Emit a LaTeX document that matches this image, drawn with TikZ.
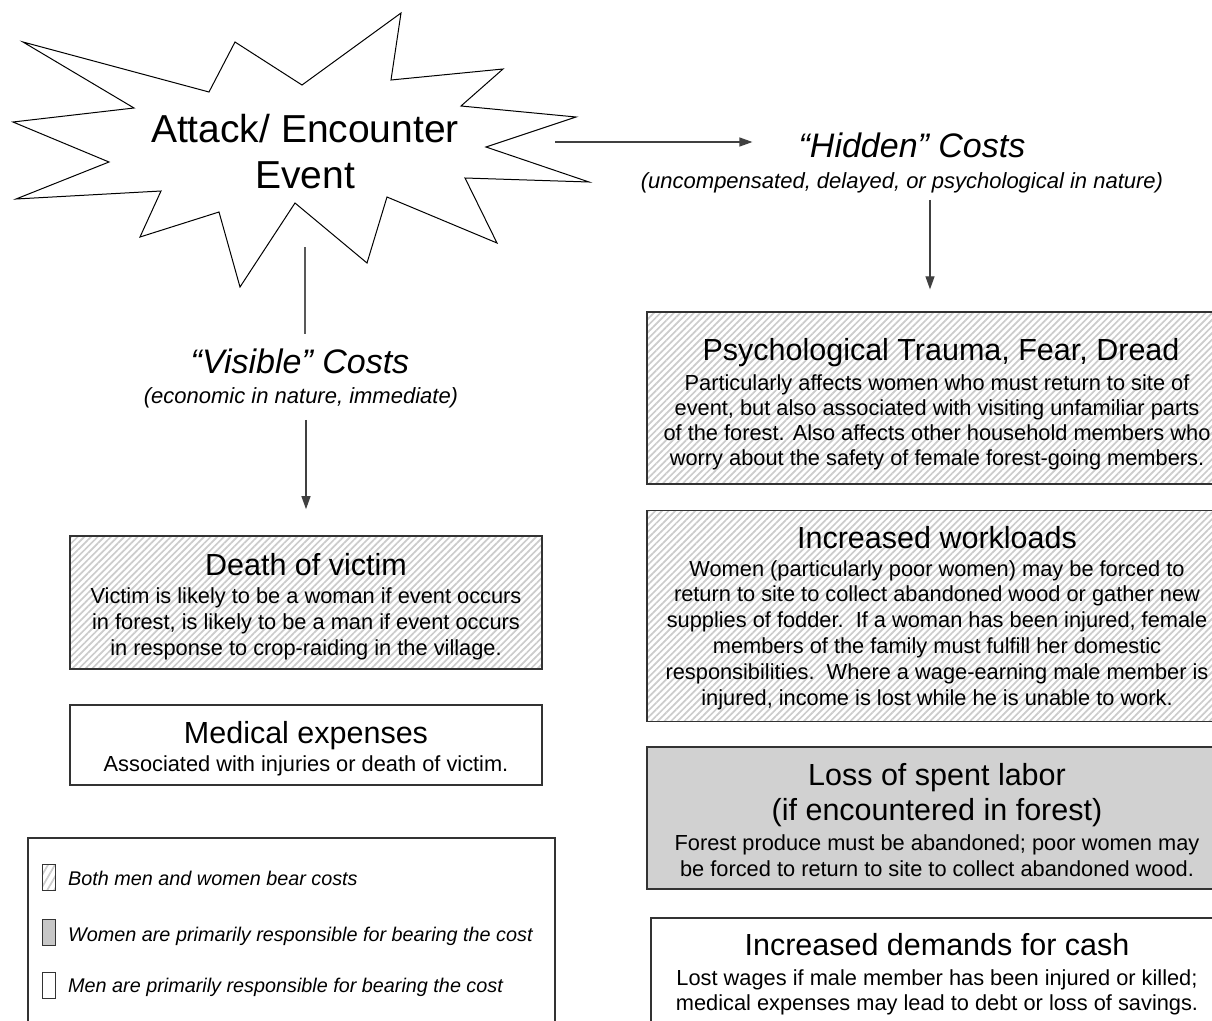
\documentclass[tikz,border=0pt]{standalone}
\usepackage{fontspec}
\setmainfont{Liberation Sans}
\usetikzlibrary{arrows.meta,patterns.meta}
\begin{document}
\begin{tikzpicture}[x=1pt,y=-1pt,
  hatch/.style={pattern={Lines[angle=45,distance=4.7pt,line width=1.7pt]}, pattern color=black!20},
  hatchbox/.style={draw=black!80, line width=1.3pt, hatch, inner sep=0pt},
  greybox/.style={draw=black!80, line width=1.3pt, fill=black!18, inner sep=0pt},
  plainbox/.style={draw=black!80, line width=1.3pt, fill=white, inner sep=0pt},
  ttl/.style={font=\fontsize{30.5}{35}\selectfont, anchor=base, inner sep=0pt},
  bodytxt/.style={font=\fontsize{21.8}{25}\selectfont, align=center, anchor=base, inner sep=0pt},
  bigit/.style={font=\fontsize{34}{38}\selectfont\itshape, anchor=base, inner sep=0pt},
  subit/.style={font=\fontsize{22}{25}\selectfont\itshape, anchor=base, inner sep=0pt},
  legtxt/.style={font=\fontsize{19.8}{22}\selectfont\itshape, anchor=base west, inner sep=0pt},
  swatch/.style={draw=black!80, line width=1pt, minimum width=13pt, minimum height=26pt, inner sep=0pt},
  arr/.style={line width=1.2pt, draw=black!75, -{Triangle[length=13pt,width=9pt]}},
  plainline/.style={line width=1.2pt, draw=black!65}
]
\clip (0,0) rectangle (1212,1020);
\fill[white] (0,0) rectangle (1212,1020);

% starburst
\draw[line width=1pt, line join=miter, fill=white]
  (23,42) -- (209,92) -- (235,42) -- (302,85) -- (401,13) -- (391,80) -- (503,69) -- (461,106)
  -- (576,117) -- (486,147) -- (589,182) -- (465,178) -- (497,243) -- (387,197) -- (367,263)
  -- (295,203) -- (240,287) -- (219,212) -- (140,237) -- (161,191) -- (16,199) -- (109,162)
  -- (13,122) -- (134,108) -- cycle;
\node[font=\fontsize{39}{46}\selectfont, align=center, anchor=base, inner sep=0pt] (star) at (305,188) {Attack/ Encounter\\Event};
\coordinate (starE) at (555,142);
\coordinate (starS) at (305,247);

% hidden costs
\node[bigit] (hidden) at (912,157) {“Hidden” Costs};
\node[subit] (hiddensub) at (902,188) {(uncompensated, delayed, or psychological in nature)};

% visible costs
\node[bigit] (visible) at (300,373) {“Visible” Costs};
\node[subit] (visiblesub) at (301,403) {(economic in nature, immediate)};

% left boxes
\node[hatchbox, minimum width=472pt, minimum height=133pt] (death) at (306,602.5) {};
\node[ttl] (deathT) at (306,575) {Death of victim};
\node[bodytxt, font=\fontsize{21.8}{26}\selectfont] (deathB) at (306,655) {Victim is likely to be a woman if event occurs\\in forest, is likely to be a man if event occurs\\in response to crop-raiding in the village.};

\node[plainbox, minimum width=472pt, minimum height=80pt] (medical) at (306,745) {};
\node[ttl] (medicalT) at (306,743) {Medical expenses};
\node[bodytxt] (medicalB) at (306,771) {Associated with injuries or death of victim.};

% legend
\node[plainbox, minimum width=527pt, minimum height=202pt] (legend) at (291.5,939) {};
\node[swatch, pattern={Lines[angle=60,distance=6pt,line width=1.7pt]}, pattern color=black!20] (sw1) at (49,877) {};
\node[swatch, fill=black!22] (sw2) at (49,932) {};
\node[swatch, fill=white] (sw3) at (49,985) {};
\node[legtxt] (lg1) at (68,885) {Both men and women bear costs};
\node[legtxt] (lg2) at (68,941) {Women are primarily responsible for bearing the cost};
\node[legtxt] (lg3) at (68,992) {Men are primarily responsible for bearing the cost};

% right boxes
\node[hatchbox, minimum width=566pt, minimum height=172pt] (psych) at (930,398) {};
\node[ttl] (psychT) at (941,360) {Psychological Trauma, Fear, Dread};
\node[bodytxt] (psychB) at (937,465) {Particularly affects women who must return to site of\\event, but also associated with visiting unfamiliar parts\\of the forest. Also affects other household members who\\worry about the safety of female forest-going members.};

\node[hatchbox, minimum width=566pt, minimum height=211pt] (work) at (930,616) {};
\node[ttl] (workT) at (937,548) {Increased workloads};
\node[bodytxt, font=\fontsize{21.8}{25.8}\selectfont] (workB) at (937,705) {Women (particularly poor women) may be forced to\\return to site to collect abandoned wood or gather new\\supplies of fodder.\ \ If a woman has been injured, female\\members of the family must fulfill her domestic\\responsibilities.\ \ Where a wage-earning male member is\\injured, income is lost while he is unable to work.};

\node[greybox, minimum width=566pt, minimum height=142pt] (loss) at (930,818) {};
\node[ttl, align=center] (lossT) at (937,820) {Loss of spent labor\\(if encountered in forest)};
\node[bodytxt, font=\fontsize{21.8}{26}\selectfont] (lossB) at (937,876) {Forest produce must be abandoned; poor women may\\be forced to return to site to collect abandoned wood.};

\node[plainbox, minimum width=562pt, minimum height=122pt] (cash) at (932,979) {};
\node[ttl] (cashT) at (937,955) {Increased demands for cash};
\node[bodytxt] (cashB) at (937,1010) {Lost wages if male member has been injured or killed;\\medical expenses may lead to debt or loss of savings.};

% connectors
\draw[arr, shorten >=46pt] (starE) -- (starE -| hidden.west);
\draw[arr, shorten <=7pt, shorten >=22pt] (hiddensub.south -| psych.north) -- (psych.north);
\draw[plainline, shorten >=14pt] (starS) -- (starS |- visible.north);
\draw[arr, shorten <=12pt, shorten >=26pt] (visiblesub.south -| death.north) -- (death.north);
\end{tikzpicture}
\end{document}
